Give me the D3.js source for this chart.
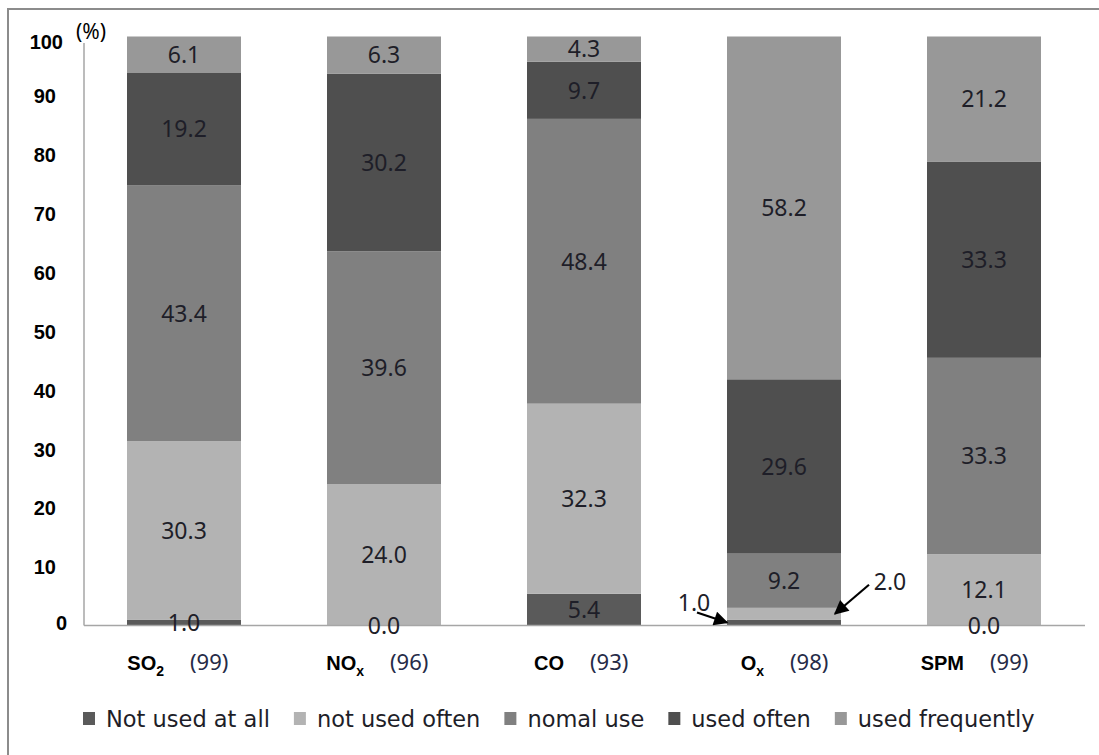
<!DOCTYPE html>
<html>
<head>
<meta charset="utf-8">
<script src="https://cdn.jsdelivr.net/npm/d3@7"></script>
<style>
  html, body { margin: 0; padding: 0; background: #fff; }
  svg { display: block; }
</style>
</head>
<body>
<svg id="chart" width="1099" height="755"></svg>
<script>
// Monitoring items and number of respondents
const nameBase = ["SO", "NO", "CO", "O", "SPM"];
const nameSub  = ["2", "x", "", "x", ""];
const counts   = [99, 96, 93, 98, 99];

// Share of answers per item (%)
const notUsedAtAll    = [1.0, 0.0, 5.4, 1.0, 0.0];
const notUsedOften    = [30.3, 24.0, 32.3, 2.0, 12.1];
const nomalUse        = [43.4, 39.6, 48.4, 9.2, 33.3];
const usedOften       = [19.2, 30.2, 9.7, 29.6, 33.3];
const usedFrequently  = [6.1, 6.3, 4.3, 58.2, 21.2];

const seriesNames = ["Not used at all", "not used often", "nomal use", "used often", "used frequently"];
const seriesColors = ["#5a5a5a", "#b3b3b3", "#808080", "#4f4f4f", "#989898"];
const yTicks = [0, 10, 20, 30, 40, 50, 60, 70, 80, 90, 100];

const keys = ["k0", "k1", "k2", "k3", "k4"];
const rows = nameBase.map((n, i) => ({
  idx: i,
  k0: notUsedAtAll[i], k1: notUsedOften[i], k2: nomalUse[i],
  k3: usedOften[i], k4: usedFrequently[i]
}));

const svg = d3.select("#chart");

// outer frame
svg.append("path")
  .attr("d", "M8,755 L8,9 L1099,9")
  .attr("fill", "none").attr("stroke", "#8c8c8c").attr("stroke-width", 2);

const plot = { left: 84, right: 1084, top: 36.5, bottom: 625.5 };

const x = d3.scaleBand().domain(d3.range(nameBase.length))
  .range([plot.left, plot.right]).paddingInner(0.43).paddingOuter(0.215);
const y = d3.scaleLinear().domain([0, 1]).range([plot.bottom, plot.top]);

const stacked = d3.stack().keys(keys).offset(d3.stackOffsetExpand)(rows);

// axes lines
svg.append("line").attr("x1", plot.left).attr("x2", plot.left)
  .attr("y1", 43).attr("y2", plot.bottom)
  .attr("stroke", "#a6a6a6").attr("stroke-width", 1.5);

// y tick labels
const yAxis = svg.append("g").attr("transform", `translate(${plot.left - 28},0)`)
  .call(d3.axisLeft(y).tickValues(yTicks.map(v => v / 100))
    .tickFormat(d => Math.round(d * 100)).tickSize(0).tickPadding(0));
yAxis.select(".domain").remove();
yAxis.selectAll("text")
  .attr("font-family", "'Liberation Sans', Arial, sans-serif")
  .attr("font-weight", "bold").attr("font-size", 20).attr("fill", "#000")
  .attr("dy", "0.36em");
yAxis.selectAll(".tick").filter(d => d === 1).select("text").attr("dx", 7).attr("dy", "0.6em");
yAxis.selectAll(".tick").filter(d => d === 0).select("text").attr("dx", 11).attr("dy", "0.2em");

svg.append("text").attr("x", 76).attr("y", 39)
  .attr("font-family", "'Noto Sans', sans-serif").attr("font-size", 21)
  .attr("fill", "#000").text("(%)");

// stacked bars
const layer = svg.append("g").selectAll("g").data(stacked).join("g")
  .attr("fill", (d, i) => seriesColors[i]);
layer.selectAll("rect").data(d => d).join("rect")
  .attr("x", d => x(d.data.idx))
  .attr("width", x.bandwidth())
  .attr("y", d => y(d[1]))
  .attr("height", d => y(d[0]) - y(d[1]));

svg.append("line").attr("x1", plot.left).attr("x2", plot.right + 1)
  .attr("y1", plot.bottom).attr("y2", plot.bottom)
  .attr("stroke", "#a6a6a6").attr("stroke-width", 1.5);

// value labels
const labelFont = "'Noto Sans', sans-serif";
const inside = [], callouts = [];
stacked.forEach((s, si) => s.forEach(d => {
  const v = d.data[keys[si]];
  const item = { si, d, v };
  if (d.data.idx === 3 && v > 0 && v < 3) callouts.push(item); else inside.push(item);
}));

svg.append("g").selectAll("text").data(inside).join("text")
  .attr("x", o => x(o.d.data.idx) + x.bandwidth() / 2)
  .attr("y", o => (y(o.d[0]) + y(o.d[1])) / 2)
  .attr("dy", "0.36em").attr("text-anchor", "middle")
  .attr("font-family", labelFont).attr("font-size", 23).attr("fill", "#1e1e28")
  .text(o => o.v.toFixed(1));

// small Ox segments get labels outside the bar with arrows
const defs = svg.append("defs");
defs.append("marker").attr("id", "arrowhead").attr("viewBox", "0 0 10 10")
  .attr("refX", 9).attr("refY", 5).attr("markerWidth", 8).attr("markerHeight", 6.5)
  .attr("orient", "auto")
  .append("path").attr("d", "M0,0 L10,5 L0,10 Z").attr("fill", "#000");

callouts.forEach((o, k) => {
  const bx0 = x(o.d.data.idx), bx1 = bx0 + x.bandwidth();
  const ym = (y(o.d[0]) + y(o.d[1])) / 2;
  let tx, ty, a;
  if (k === 0) {
    tx = bx0 - 33; ty = ym - 20;
    a = [bx0 - 30, ym - 10, bx0, ym];
  } else {
    tx = bx1 + 49; ty = ym - 32;
    a = [bx1 + 28, ym - 29, bx1 - 6, ym];
  }
  svg.append("text").attr("x", tx).attr("y", ty).attr("dy", "0.36em")
    .attr("text-anchor", "middle").attr("font-family", labelFont)
    .attr("font-size", 23).attr("fill", "#1e1e28").text(o.v.toFixed(1));
  svg.append("line").attr("x1", a[0]).attr("y1", a[1]).attr("x2", a[2]).attr("y2", a[3])
    .attr("stroke", "#000").attr("stroke-width", 2.2)
    .attr("marker-end", "url(#arrowhead)");
});

// category labels
const cat = svg.append("g");
nameBase.forEach((n, i) => {
  const cx = x(i) + x.bandwidth() / 2;
  const t = cat.append("text").attr("x", cx - 20).attr("y", 670)
    .attr("text-anchor", "end")
    .attr("font-family", "'Liberation Sans', Arial, sans-serif")
    .attr("font-weight", "bold").attr("font-size", 20).attr("fill", "#000");
  t.append("tspan").text(n);
  if (nameSub[i]) t.append("tspan").attr("font-size", 14).attr("dy", 6).text(nameSub[i]);
  cat.append("text").attr("x", cx + 6).attr("y", 670)
    .attr("font-family", labelFont).attr("font-size", 22).attr("fill", "#262b48")
    .text(`(${counts[i]})`);
});

// legend
const leg = svg.append("g");
let lx = 83;
seriesNames.forEach((name, i) => {
  leg.append("rect").attr("x", lx).attr("y", 712).attr("width", 12).attr("height", 13)
    .attr("fill", seriesColors[i]);
  const t = leg.append("text").attr("x", lx + 23).attr("y", 727)
    .attr("font-family", "'DejaVu Sans', sans-serif").attr("font-size", 22.5)
    .attr("fill", "#1e1e28")
    .text(name);
  lx = lx + 23 + t.node().getComputedTextLength() + 24;
});
</script>
</body>
</html>
